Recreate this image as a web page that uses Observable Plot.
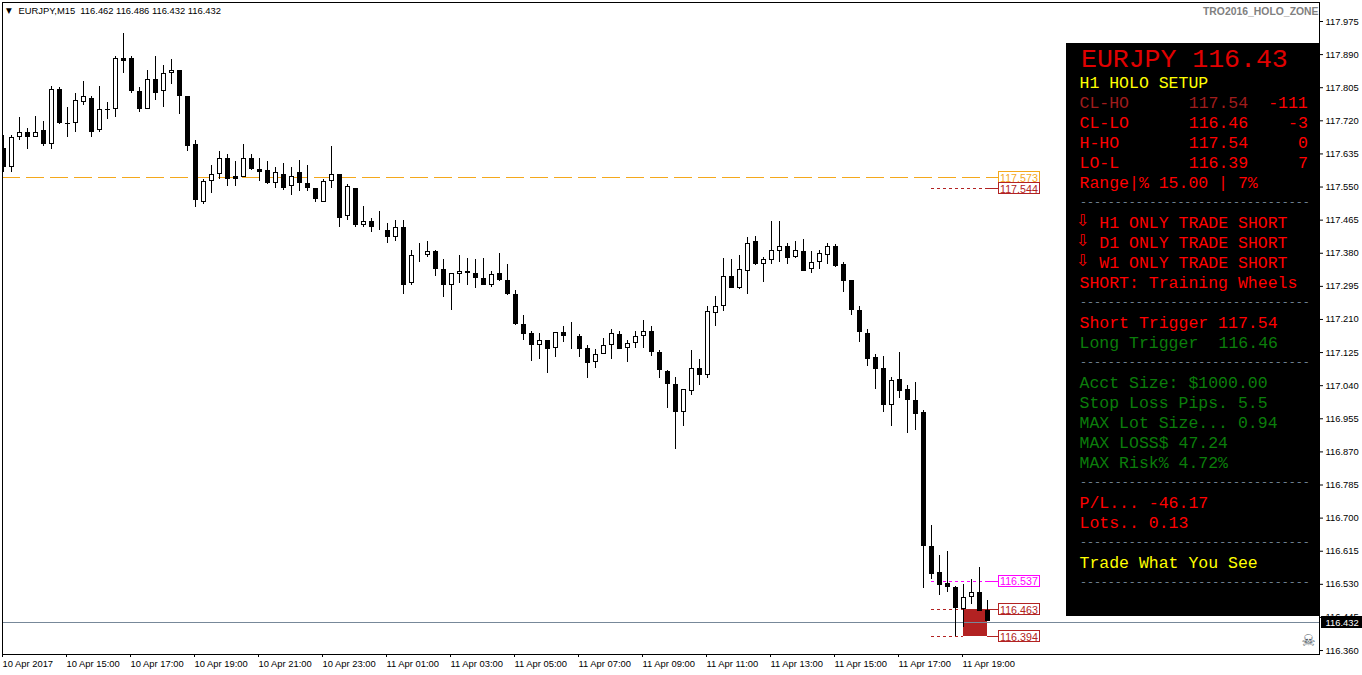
<!DOCTYPE html>
<html><head><meta charset="utf-8">
<script src="https://cdn.jsdelivr.net/npm/d3@7"></script>
<script src="https://cdn.jsdelivr.net/npm/@observablehq/plot@0.6"></script>
<style>html,body{margin:0;padding:0;background:#fff}svg{display:block}</style>
</head><body><div id="chart"></div>
<script>
const open=[117.647,117.600,117.675,117.690,117.677,117.693,117.659,117.798,117.713,117.711,
117.767,117.777,117.693,117.749,117.747,117.880,117.878,117.793,117.749,117.826,
117.793,117.839,117.847,117.782,117.657,117.510,117.562,117.580,117.623,117.575,
117.572,117.621,117.595,117.590,117.557,117.582,117.551,117.587,117.559,117.546,
117.510,117.564,117.580,117.472,117.544,117.449,117.459,117.446,117.436,117.418,
117.446,117.302,117.374,117.374,117.382,117.338,117.295,117.323,117.331,117.326,
117.315,117.295,117.326,117.310,117.272,117.197,117.172,117.143,117.154,117.133,
117.174,117.166,117.166,117.133,117.097,117.120,117.141,117.169,117.133,117.146,
117.166,117.179,117.125,117.074,117.043,116.971,117.025,117.082,117.064,117.223,
117.241,117.320,117.287,117.333,117.408,117.351,117.359,117.382,117.395,117.367,
117.382,117.338,117.354,117.374,117.397,117.349,117.308,117.233,117.172,117.110,
117.082,116.987,117.054,117.028,117.000,116.969,116.627,116.558,116.530,116.520,116.463,116.496,116.509,116.462];
const close=[117.598,117.675,117.690,117.675,117.690,117.659,117.800,117.713,117.708,117.772,
117.780,117.688,117.749,117.744,117.878,117.872,117.793,117.747,117.826,117.790,
117.839,117.847,117.780,117.652,117.513,117.564,117.582,117.623,117.567,117.569,
117.621,117.593,117.587,117.557,117.587,117.546,117.577,117.557,117.544,117.518,
117.564,117.582,117.469,117.549,117.449,117.459,117.444,117.444,117.418,117.444,
117.297,117.372,117.372,117.382,117.336,117.295,117.326,117.331,117.326,117.313,
117.297,117.323,117.308,117.272,117.197,117.169,117.143,117.156,117.131,117.174,
117.164,117.164,117.131,117.095,117.120,117.141,117.172,117.131,117.146,117.166,
117.179,117.123,117.077,117.041,116.971,117.028,117.082,117.064,117.228,117.241,
117.320,117.287,117.336,117.405,117.351,117.362,117.385,117.397,117.364,117.385,
117.333,117.356,117.377,117.397,117.344,117.305,117.233,117.174,117.107,117.079,
116.987,117.051,117.025,117.000,116.964,116.625,116.555,116.525,116.520,116.466,116.496,116.509,116.460,116.432];
const high=[117.682,117.680,117.726,117.700,117.731,117.716,117.806,117.803,117.754,117.790,
117.819,117.780,117.806,117.765,117.883,117.942,117.885,117.803,117.849,117.883,
117.862,117.875,117.847,117.782,117.667,117.567,117.605,117.641,117.631,117.613,
117.657,117.631,117.621,117.613,117.598,117.608,117.600,117.616,117.605,117.546,
117.567,117.652,117.580,117.554,117.544,117.500,117.469,117.487,117.456,117.462,
117.464,117.385,117.405,117.408,117.387,117.362,117.328,117.372,117.364,117.362,
117.364,117.333,117.377,117.351,117.282,117.218,117.179,117.172,117.154,117.174,
117.190,117.200,117.169,117.141,117.131,117.159,117.182,117.177,117.154,117.177,
117.205,117.190,117.128,117.077,117.061,117.028,117.128,117.105,117.243,117.267,
117.364,117.362,117.372,117.418,117.421,117.369,117.459,117.459,117.403,117.410,
117.413,117.382,117.387,117.405,117.400,117.354,117.310,117.243,117.184,117.118,
117.113,117.061,117.125,117.038,117.046,116.974,116.681,116.602,116.614,116.522,116.527,116.540,116.573,116.486];
const low=[117.585,117.585,117.667,117.644,117.675,117.652,117.644,117.708,117.677,117.688,
117.757,117.675,117.688,117.721,117.726,117.841,117.788,117.739,117.749,117.772,
117.754,117.813,117.734,117.639,117.495,117.503,117.533,117.567,117.549,117.549,
117.572,117.590,117.562,117.554,117.544,117.541,117.526,117.536,117.536,117.508,
117.508,117.544,117.446,117.464,117.446,117.444,117.431,117.436,117.405,117.410,
117.272,117.295,117.356,117.369,117.318,117.264,117.231,117.300,117.297,117.287,
117.295,117.292,117.305,117.269,117.192,117.154,117.102,117.105,117.069,117.110,
117.149,117.131,117.110,117.056,117.084,117.120,117.105,117.131,117.097,117.133,
117.133,117.113,117.056,116.979,116.874,116.933,117.013,117.038,117.056,117.190,
117.228,117.287,117.285,117.272,117.346,117.303,117.351,117.356,117.351,117.364,
117.333,117.328,117.336,117.349,117.341,117.279,117.218,117.149,117.087,117.028,
116.971,116.935,117.005,116.915,116.923,116.517,116.540,116.499,116.507,116.396,116.419,116.476,116.460,116.432];

const priceTicks=[117.975,117.890,117.805,117.720,117.635,117.550,117.465,117.380,117.295,117.210,117.125,117.040,116.955,116.870,116.785,116.700,116.615,116.530,116.445,116.360];
const timeLabels=["10 Apr 2017","10 Apr 15:00","10 Apr 17:00","10 Apr 19:00","10 Apr 21:00","10 Apr 23:00","11 Apr 01:00","11 Apr 03:00","11 Apr 05:00","11 Apr 07:00","11 Apr 09:00","11 Apr 11:00","11 Apr 13:00","11 Apr 15:00","11 Apr 17:00","11 Apr 19:00"];
const barsPerLabel=8;

const levelPrice=[117.573,117.544,116.537,116.463,116.394];
const levelColor=["#f4a81c","#b22222","#ff00ff","#b22222","#b22222"];
const lastPrice=116.432, holoTop=116.463, holoBottom=116.394;

const RED="#ff0000",DIM="#a01c1c",GREEN="#0b7d0b",YEL="#ffff00",GRAY="#778899";
const panelTexts=[
 ["H1 HOLO SETUP",0,0,YEL],
 ["CL-HO",1,0,DIM],["117.54",1,11,DIM],["-111",1,19,RED],
 ["CL-LO",2,0,RED],["116.46",2,11,RED],["-3",2,21,RED],
 ["H-HO",3,0,RED],["117.54",3,11,RED],["0",3,22,RED],
 ["LO-L",4,0,RED],["116.39",4,11,RED],["7",4,22,RED],
 ["Range|% 15.00 | 7%",5,0,RED],
 ["H1 ONLY TRADE SHORT",7,2,RED],["D1 ONLY TRADE SHORT",8,2,RED],["W1 ONLY TRADE SHORT",9,2,RED],
 ["SHORT: Training Wheels",10,0,RED],
 ["Short Trigger 117.54",12,0,RED],
 ["Long Trigger",13,0,GREEN],["116.46",13,14,GREEN],
 ["Acct Size: $1000.00",15,0,GREEN],["Stop Loss Pips. 5.5",16,0,GREEN],["MAX Lot Size... 0.94",17,0,GREEN],
 ["MAX LOSS$ 47.24",18,0,GREEN],["MAX Risk% 4.72%",19,0,GREEN],
 ["P/L... -46.17",21,0,RED],["Lots.. 0.13",22,0,RED],
 ["Trade What You See",24,0,YEL]
];
const panelRules=[6,11,14,20,23,25];
const arrowRows=[7,8,9];

const X0=3,PXBAR=8,Y0=21,PXUNIT=389.5,P0=117.975;
const idx=d3.range(open.length);
const ix=px=>(px-X0)/PXBAR;
const pr=py=>P0-(py-Y0)/PXUNIT;
const LEFT=2,RIGHT=1319,TOP=2,BOTTOM=654;
const UI="Liberation Sans, Arial, sans-serif", MONO="Liberation Mono, monospace";

const at=(t,px,py,o={})=>Plot.text([t],{text:d=>d,frameAnchor:"top-left",dx:px-LEFT,dy:py-TOP,textAnchor:"start",lineAnchor:"middle",fontFamily:UI,...o});
const hline=(p,a,b,o={})=>Plot.ruleY([p],{x1:a,x2:b,dy:-0.5,shapeRendering:"crispEdges",...o});

const chart=Plot.plot({
 width:1362,height:675,marginLeft:LEFT,marginTop:TOP,marginRight:1362-RIGHT,marginBottom:675-BOTTOM,
 style:{background:"#fff",overflow:"visible"},
 x:{domain:[ix(LEFT),ix(RIGHT)],range:[LEFT,RIGHT]},
 y:{domain:[pr(BOTTOM),pr(TOP)],range:[BOTTOM,TOP]},
 marks:[
  Plot.axisY(priceTicks,{anchor:"right",tickSize:3,tickPadding:3,tickFormat:".3f",fontSize:9.4,fontFamily:UI,label:null,fill:"#000"}),
  Plot.axisX(d3.range(timeLabels.length).map(k=>k*barsPerLabel),{anchor:"bottom",tickSize:3,tickPadding:3,textAnchor:"start",dx:-1,tickFormat:i=>timeLabels[i/barsPerLabel],fontSize:9.4,fontFamily:UI,label:null,fill:"#000"}),
  // levels behind candles
  hline(levelPrice[0],ix(LEFT),ix(998),{stroke:levelColor[0],strokeDasharray:"18,6"}),
  hline(levelPrice[1],ix(931),ix(988),{stroke:levelColor[1],strokeDasharray:"3,3"}),
  hline(levelPrice[1],ix(988),ix(998),{stroke:levelColor[1]}),
  hline(levelPrice[2],ix(931),ix(988),{stroke:levelColor[2],strokeDasharray:"3,3"}),
  hline(levelPrice[2],ix(988),ix(998),{stroke:levelColor[2]}),
  hline(levelPrice[3],ix(931),ix(963),{stroke:levelColor[3],strokeDasharray:"3,3"}),
  hline(levelPrice[3],ix(987),ix(998),{stroke:levelColor[3]}),
  hline(levelPrice[4],ix(931),ix(963),{stroke:levelColor[4],strokeDasharray:"3,3"}),
  hline(levelPrice[4],ix(987),ix(998),{stroke:levelColor[4]}),
  Plot.rect([0],{x1:ix(963),x2:ix(987),y1:holoBottom,y2:holoTop,fill:"#b22222",dy:-0.5,shapeRendering:"crispEdges"}),
  hline(lastPrice,ix(LEFT),ix(RIGHT),{stroke:"#778899",dy:0}),
  // candles
  Plot.ruleX(idx,{x:i=>i,y1:i=>low[i],y2:i=>high[i],stroke:"#000",dy:-0.5,clip:"frame",shapeRendering:"crispEdges"}),
  Plot.rect(idx,{x1:i=>i-0.25,x2:i=>i+0.25,y1:i=>Math.min(open[i],close[i]),y2:i=>Math.max(open[i],close[i]),insetBottom:1,
    fill:i=>close[i]>=open[i]?"#fff":"#000",stroke:"#000",clip:"frame",shapeRendering:"crispEdges"}),
  // level tags
  Plot.rect(levelPrice,{x1:ix(998),x2:ix(1039),y1:p=>p-5.5/PXUNIT,y2:p=>p+5.5/PXUNIT,fill:"#fff",stroke:(p,i)=>levelColor[i],dy:-0.5,shapeRendering:"crispEdges"}),
  Plot.text(levelPrice,{x:ix(999.5),y:p=>p,text:p=>p.toFixed(3),textAnchor:"start",fill:(p,i)=>levelColor[i],fontSize:10.7,fontFamily:UI}),
  // panel
  Plot.rect([0],{x1:ix(1066),x2:ix(RIGHT),y1:pr(616),y2:pr(43),fill:"#000",shapeRendering:"crispEdges"}),
  at("EURJPY 116.43",1080.5,58,{fontFamily:MONO,fontSize:26.5,fill:"#e00000"}),
  ...panelTexts.map(([t,row,col,c])=>at(t,1079+col*9.93,82.5+row*20,{fontFamily:MONO,fontSize:16.5,fill:c})),
  ...panelRules.map(r=>at("-".repeat(33),1079.5,80.5+r*20,{fontFamily:MONO,fontSize:11.6,fill:GRAY})),
  ...arrowRows.map(r=>at("\u21e9",1082,80.5+r*20,{fontFamily:"DejaVu Sans",fontSize:16,textAnchor:"middle",fill:RED})),
  // headers
  at("\u25bc",5.5,10.5,{fontSize:7.5,fontFamily:"DejaVu Sans",fill:"#000"}),
  at("EURJPY,M15  116.462 116.486 116.432 116.432",18,10.5,{fontSize:9.4,fill:"#000"}),
  at("TRO2016_HOLO_ZONE",1318,11,{fontSize:10.4,textAnchor:"end",fill:"#808080",fontWeight:"bold"}),
  at("\u2620",1308,640,{fontFamily:"DejaVu Sans",fontSize:16,textAnchor:"middle",fill:"#4a5560"}),
  Plot.frame({stroke:"#000"}),
  // last-price tag
  Plot.rect([lastPrice],{x1:ix(1321),x2:ix(1362),y1:p=>p-5.8/PXUNIT,y2:p=>p+5.8/PXUNIT,fill:"#000",shapeRendering:"crispEdges"}),
  Plot.text([lastPrice],{x:ix(1325),y:p=>p,text:p=>p.toFixed(3),textAnchor:"start",fill:"#fff",fontSize:9.4,fontFamily:UI})
 ]
});
document.getElementById("chart").appendChild(chart);
</script></body></html>
